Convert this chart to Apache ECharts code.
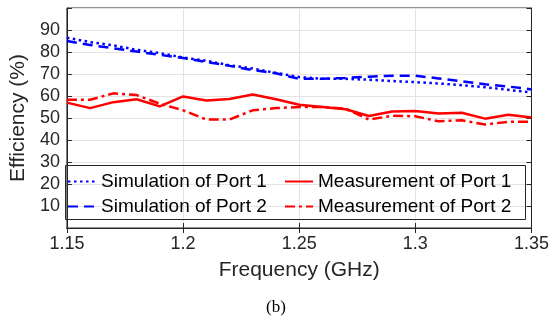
<!DOCTYPE html>
<html>
<head>
<meta charset="utf-8">
<script src="https://cdn.jsdelivr.net/npm/echarts@6/dist/echarts.min.js"></script>
<style>
html,body{margin:0;padding:0;background:#fff;}
#c{width:552px;height:326px;}
</style>
</head>
<body>
<div id="c"></div>
<script>
var freq = [1.15,1.16,1.17,1.18,1.19,1.20,1.21,1.22,1.23,1.24,1.25,1.26,1.27,1.28,1.29,1.30,1.31,1.32,1.33,1.34,1.35];
var simPort1 = [86.5,84.5,83,81,79.5,77.5,76,74,72.5,70.5,68.6,67.8,67.8,67.4,66.8,66.3,65.7,64.9,64,62.8,61.6];
var simPort2 = [85,83.2,81.7,80.2,78.7,77.3,75.5,73.7,71.8,70.3,67.8,67.8,68.2,68.8,69.2,69.2,68,66.7,65.3,64.3,63];
var measPort1 = [57,54.5,57.2,58.5,55.3,59.8,58,58.6,60.7,58.5,56,55,54,50.9,53,53.2,52,52.4,49.7,51.5,50.2];
var measPort2 = [58.3,58.3,61.2,60.4,56.5,53.5,49.3,49.3,53.5,54.5,55,55,54.2,49.3,51,50.8,48.5,49,47,48.3,48.3];
var names = ['Simulation of Port 1','Simulation of Port 2','Measurement of Port 1','Measurement of Port 2'];

function pairs(ys){ return freq.map(function(f,i){ return [f, ys[i]]; }); }

var chart = echarts.init(document.getElementById('c'), null, {renderer:'canvas'});
var FONT = '"Liberation Sans", Arial, Helvetica, sans-serif';
var axisCol = '#262626';

function mkSeries(name, ys, color, type, width){
  return {
    name: name, type: 'line', data: pairs(ys), symbol: 'none', smooth: false,
    lineStyle: {color: color, width: width, type: type, cap: 'butt'},
    itemStyle: {color: color},
    emphasis: {disabled: true}, animation: false, z: 5
  };
}

var legendCommon = {
  orient: 'vertical', top: 172,
  itemWidth: 28, itemHeight: 12, itemGap: 6, padding: 0,
  itemStyle: {opacity: 0},
  textStyle: {fontFamily: FONT, fontSize: 19, color: '#000', lineHeight: 19}
};

var option = {
  animation: false,
  backgroundColor: '#fff',
  grid: {left: 63, right: 20, top: 8, bottom: 98, show: true, borderColor: axisCol, borderWidth: 1},
  legend: [
    Object.assign({data: [names[0], names[1]], left: 67}, legendCommon),
    Object.assign({data: [names[2], names[3]], left: 284}, legendCommon)
  ],
  graphic: [{
    type: 'rect', left: 65, top: 165, z: 10, silent: true,
    shape: {width: 460, height: 54},
    style: {fill: 'rgba(0,0,0,0)', stroke: axisCol, lineWidth: 1}
  }, {
    type: 'text', left: 'center', top: 299, silent: true,
    style: {text: '(b)', fontFamily: '"Liberation Serif", "Times New Roman", serif', fontSize: 17, fill: '#000'}
  }],
  xAxis: [
    {
      type: 'value', min: 1.15, max: 1.35, interval: 0.05, position: 'bottom',
      name: 'Frequency (GHz)', nameLocation: 'middle', nameGap: 32,
      nameTextStyle: {fontFamily: FONT, fontSize: 21, color: axisCol},
      axisLine: {show: true, lineStyle: {color: axisCol}},
      axisTick: {show: true, inside: true, length: 5, lineStyle: {color: axisCol}},
      axisLabel: {fontFamily: FONT, fontSize: 18, color: axisCol, margin: 7,
        formatter: function(v){ return String(+v.toFixed(2)); }},
      splitLine: {show: true, lineStyle: {color: '#e3e3e3', width: 1}}
    },
    {
      type: 'value', min: 1.15, max: 1.35, interval: 0.05, position: 'top',
      axisLine: {show: true, lineStyle: {color: axisCol}},
      axisTick: {show: true, inside: true, length: 5, lineStyle: {color: axisCol}},
      axisLabel: {show: false}, splitLine: {show: false}
    }
  ],
  yAxis: [
    {
      type: 'value', min: 0, max: 100, interval: 10, position: 'left',
      name: 'Efficiency (%)', nameLocation: 'middle', nameGap: 30, nameRotate: 90,
      nameTextStyle: {fontFamily: FONT, fontSize: 21, color: axisCol},
      axisLine: {show: true, lineStyle: {color: axisCol}},
      axisTick: {show: true, inside: true, length: 5, lineStyle: {color: axisCol}},
      axisLabel: {fontFamily: FONT, fontSize: 18, color: axisCol, margin: 7,
        formatter: function(v){ return (v <= 0 || v >= 100) ? '' : String(v); }},
      splitLine: {show: true, lineStyle: {color: '#e3e3e3', width: 1}}
    },
    {
      type: 'value', min: 0, max: 100, interval: 10, position: 'right',
      axisLine: {show: true, lineStyle: {color: axisCol}},
      axisTick: {show: true, inside: true, length: 5, lineStyle: {color: axisCol}},
      axisLabel: {show: false}, splitLine: {show: false}
    }
  ],
  series: [
    mkSeries(names[0], simPort1, '#0000ff', [2.5, 3.5], 2.5),
    mkSeries(names[1], simPort2, '#0000ff', [10, 6], 2.5),
    mkSeries(names[2], measPort1, '#ff0000', 'solid', 2.5),
    mkSeries(names[3], measPort2, '#ff0000', [10, 4, 3, 4], 2.5)
  ]
};
chart.setOption(option);
</script>
</body>
</html>
